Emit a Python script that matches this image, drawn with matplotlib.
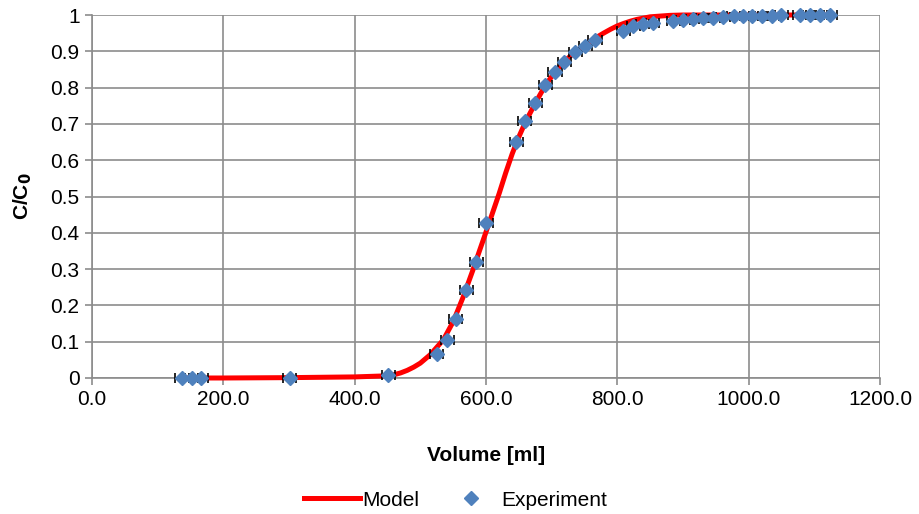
import matplotlib.pyplot as plt

plt.rcParams["font.family"] = ["Liberation Sans", "DejaVu Sans"]

# Model curve
model_vol = [138, 200, 300, 400, 450, 460, 470, 480, 490, 500, 515, 535, 550,
             565, 580, 590, 600, 610, 620, 630, 640, 650, 660, 675, 690, 705,
             720, 736, 751, 766, 780, 790, 800, 810, 820, 830, 850, 880, 900,
             950, 1000, 1050, 1100, 1125]
model_c = [0.0, 0.0, 0.001, 0.003, 0.006, 0.009, 0.014, 0.021, 0.03, 0.041, 0.064,
           0.105, 0.155, 0.222, 0.297, 0.35, 0.402, 0.455, 0.508, 0.565, 0.618, 0.664,
           0.705, 0.757, 0.805, 0.843, 0.873, 0.899, 0.919, 0.936, 0.951, 0.961,
           0.97, 0.977, 0.983, 0.988, 0.995, 0.999, 1.0, 1.0, 1.0, 1.0, 1.0, 1.0]

# Experimental points
exp_vol = [137, 152, 166, 301, 451, 525, 541, 554, 570, 585, 600, 646, 659, 675,
           690, 705, 719, 736, 751, 766, 809, 824, 839, 854, 885, 900, 915, 930,
           946, 961, 977, 991, 1005, 1020, 1036, 1050, 1078, 1093, 1109, 1124]
exp_c = [0.0, 0.0, 0.0, 0.001, 0.008, 0.066, 0.105, 0.163, 0.242, 0.32, 0.427,
         0.65, 0.708, 0.758, 0.807, 0.843, 0.87, 0.898, 0.915, 0.931, 0.957,
         0.97, 0.975, 0.977, 0.984, 0.986, 0.989, 0.991, 0.993, 0.994, 0.998,
         0.998, 0.997, 0.997, 0.998, 1.0, 0.999, 0.999, 0.999, 1.0]
vol_err = 10

fig = plt.figure(figsize=(9.2, 5.14), dpi=100)
ax = fig.add_axes([0.1, 0.2646, 0.8565, 0.7062])

ax.plot(model_vol, model_c, color="#ff0000", lw=3.6, label="Model", zorder=3,
        clip_on=False, solid_joinstyle="round")
ax.errorbar(exp_vol, exp_c, xerr=vol_err, fmt="none", ecolor="black", elinewidth=1,
            capsize=3.5, capthick=1.2, zorder=4, clip_on=False)
ax.plot(exp_vol, exp_c, ls="none", marker="D", ms=7, color="#4f81bd",
        label="Experiment", zorder=5, clip_on=False)

ax.set_xlim(0, 1200)
ax.set_ylim(0, 1)
ax.set_xticks(range(0, 1201, 200))
ax.set_xticklabels([f"{v:.1f}" for v in range(0, 1201, 200)])
ax.set_yticks([i / 10 for i in range(11)])
ax.set_yticklabels(["0"] + [f"{i / 10:.1f}" for i in range(1, 10)] + ["1"])

ax.grid(True, color="#8c8c8c", lw=1.2)
ax.set_axisbelow(True)
for s in ax.spines.values():
    s.set_visible(False)
for side in ["left", "bottom"]:
    ax.spines[side].set_visible(True)
    ax.spines[side].set_color("#8c8c8c")
    ax.spines[side].set_linewidth(1.2)
ax.tick_params(axis="both", direction="out", length=5, width=1.2, color="#8c8c8c",
               labelsize=15, pad=4)

ax.set_xlabel("Volume [ml]", fontsize=15, fontweight="bold", labelpad=26)
ax.set_ylabel("C/C$_\\mathbf{0}$", fontsize=15, fontweight="bold", labelpad=12)

ax.legend(loc="center", bbox_to_anchor=(0.495, 0.027), bbox_transform=fig.transFigure,
          ncol=2, frameon=False, fontsize=15, handlelength=2.7, columnspacing=1.1,
          handletextpad=0.1)

plt.savefig("out.png")
